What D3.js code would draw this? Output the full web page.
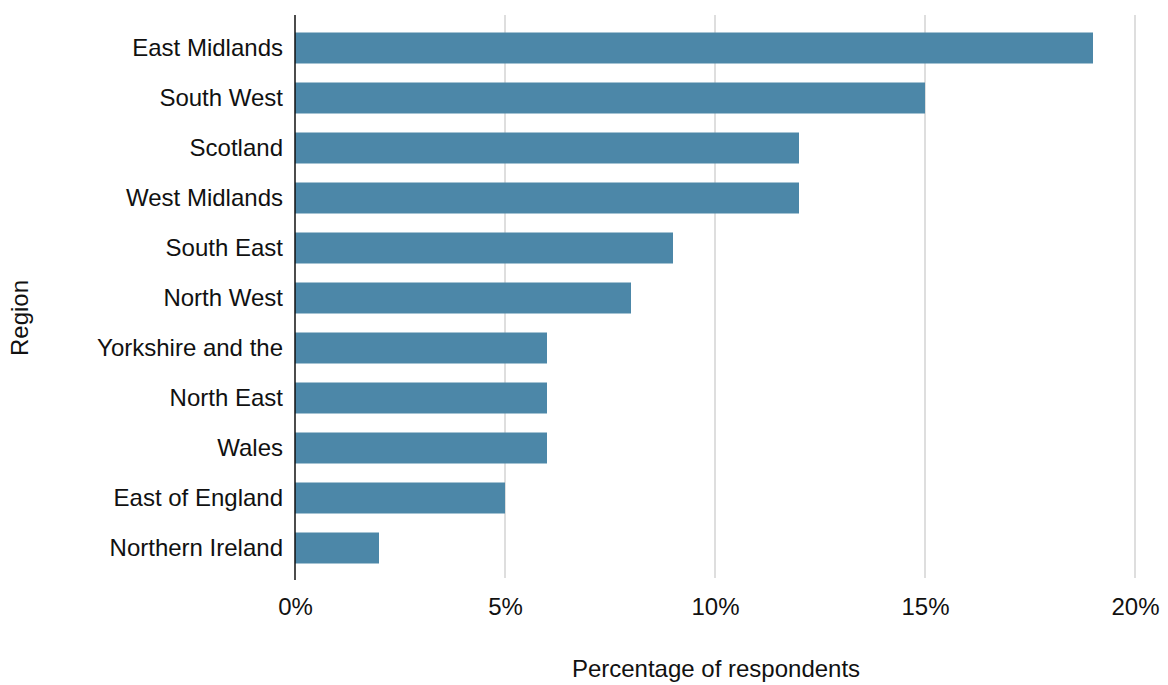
<!DOCTYPE html>
<html>
<head>
<meta charset="utf-8">
<script src="https://cdn.jsdelivr.net/npm/d3@7"></script>
<style>
  body { margin: 0; background: #fff; }
  text { font-family: "Liberation Sans", Arial, sans-serif; fill: #111; }
</style>
</head>
<body>
<div id="plot"></div>
<script>
  var regions = ["East Midlands", "South West", "Scotland", "West Midlands", "South East",
    "North West", "Yorkshire and the", "North East", "Wales", "East of England", "Northern Ireland"];
  var shares = [19, 15, 12, 12, 9, 8, 6, 6, 6, 5, 2];
  var ticks = [0, 5, 10, 15, 20];

  var width = 1168, height = 685;
  var svg = d3.select("#plot").append("svg")
      .attr("width", width)
      .attr("height", height);

  var x = d3.scaleLinear().domain([0, 20]).range([295, 1135]);
  var y = d3.scaleBand().domain(regions).range([23, 573]).paddingInner(0.38).paddingOuter(0.19);

  // gridlines
  svg.selectAll(".grid")
    .data(ticks.slice(1))
    .enter().append("line")
      .attr("x1", function(d) { return x(d); })
      .attr("x2", function(d) { return x(d); })
      .attr("y1", 15)
      .attr("y2", 578)
      .attr("stroke", "#c8c8c8")
      .attr("stroke-width", 1.2);

  svg.selectAll(".bar")
    .data(shares)
    .enter().append("rect")
      .attr("x", x(0))
      .attr("y", function(d, i) { return y(regions[i]); })
      .attr("width", function(d) { return x(d) - x(0); })
      .attr("height", y.bandwidth())
      .attr("fill", "#4c87a8");

  // y axis line
  svg.append("line")
    .attr("x1", x(0)).attr("x2", x(0))
    .attr("y1", 15).attr("y2", 580)
    .attr("stroke", "#111").attr("stroke-width", 1.5);

  var yAxis = d3.axisLeft(y).tickSize(0).tickPadding(12);
  var gy = svg.append("g").attr("transform", "translate(" + x(0) + ",0)").call(yAxis);
  gy.select(".domain").remove();
  gy.selectAll("text").style("font-size", "24px").style("font-family", "Liberation Sans, Arial, sans-serif").attr("fill", "#111");

  var xAxis = d3.axisBottom(x).tickValues(ticks).tickSize(0).tickPadding(0)
      .tickFormat(function(d) { return d + "%"; });
  var gx = svg.append("g").attr("transform", "translate(0,615)").call(xAxis);
  gx.select(".domain").remove();
  gx.selectAll("text").attr("dy", 0).style("font-size", "24px").style("font-family", "Liberation Sans, Arial, sans-serif").attr("fill", "#111");

  svg.append("text")
    .attr("x", 716).attr("y", 677)
    .attr("text-anchor", "middle")
    .style("font-size", "24px")
    .text("Percentage of respondents");

  svg.append("text")
    .attr("transform", "translate(28,318) rotate(-90)")
    .attr("text-anchor", "middle")
    .style("font-size", "24px")
    .text("Region");
</script>
</body>
</html>
